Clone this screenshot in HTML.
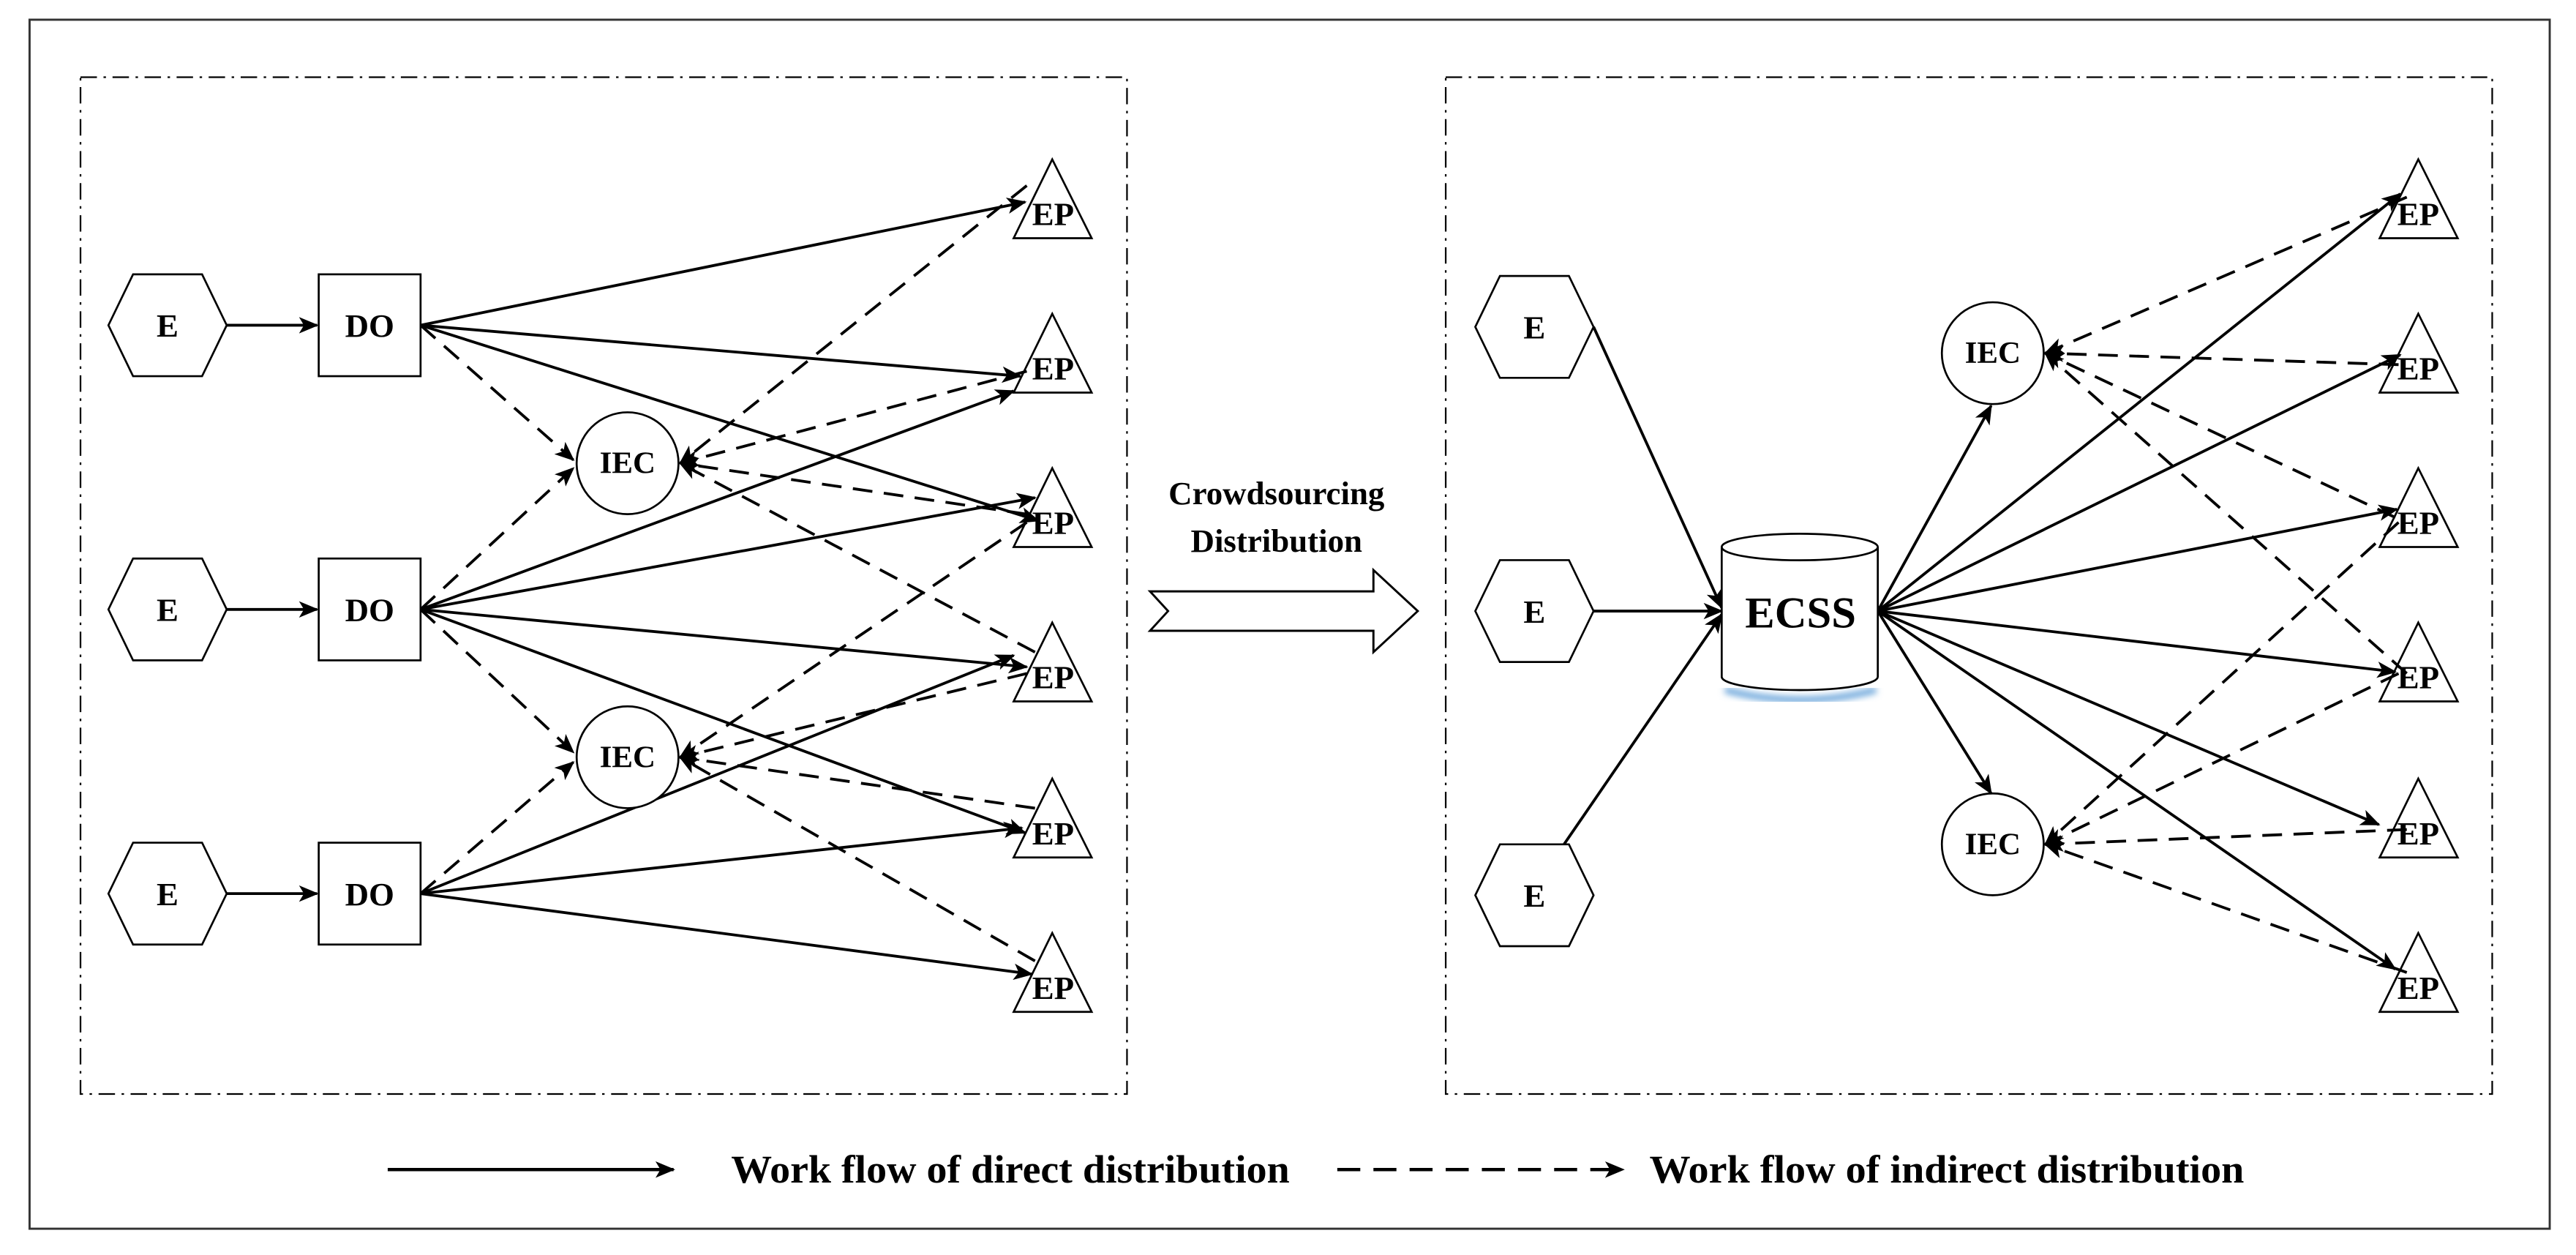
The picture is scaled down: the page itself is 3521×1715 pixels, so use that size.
<!DOCTYPE html>
<html><head><meta charset="utf-8"><style>html,body{margin:0;padding:0;background:#fff}svg{display:block}</style></head>
<body>
<svg width="3521" height="1715" viewBox="0 0 1568 764" preserveAspectRatio="none" xmlns="http://www.w3.org/2000/svg" font-family="Liberation Serif, serif" font-weight="bold">
<defs>
<marker id="a" viewBox="0 0 12 10" refX="11" refY="5" markerWidth="12" markerHeight="10" markerUnits="userSpaceOnUse" orient="auto"><path d="M0,0 L12,5 L0,10 L3,5 z" fill="#000"/></marker>
<filter id="sh" x="-20%" y="-20%" width="140%" height="140%"><feGaussianBlur stdDeviation="2"/></filter>
</defs>
<rect x="18" y="12" width="1534" height="736" fill="none" stroke="#333" stroke-width="1.3"/>
<rect x="49" y="47" width="637" height="619" fill="none" stroke="#000" stroke-width="1" stroke-dasharray="10,4,1.5,4"/>
<rect x="880" y="47" width="637" height="619" fill="none" stroke="#000" stroke-width="1" stroke-dasharray="10,4,1.5,4"/>

<g stroke="#000" stroke-width="1.7" fill="none" marker-end="url(#a)">
<line x1="138" y1="198" x2="193" y2="198"/>
<line x1="138" y1="371" x2="193" y2="371"/>
<line x1="138" y1="544" x2="193" y2="544"/>
<line x1="256" y1="198" x2="624" y2="123"/>
<line x1="256" y1="198" x2="621" y2="229"/>
<line x1="256" y1="198" x2="632" y2="317"/>
<line x1="256" y1="371" x2="617" y2="238"/>
<line x1="256" y1="371" x2="630" y2="303"/>
<line x1="256" y1="371" x2="625" y2="406"/>
<line x1="256" y1="371" x2="624" y2="507"/>
<line x1="256" y1="544" x2="617" y2="399"/>
<line x1="256" y1="544" x2="622" y2="504"/>
<line x1="256" y1="544" x2="628" y2="593"/>
<line x1="970" y1="199" x2="1048" y2="370"/>
<line x1="970" y1="372" x2="1048" y2="372"/>
<line x1="952" y1="514" x2="1048" y2="374"/>
<line x1="1143" y1="372" x2="1212" y2="247"/>
<line x1="1143" y1="372" x2="1212" y2="483"/>
<line x1="1143" y1="372" x2="1461" y2="118"/>
<line x1="1143" y1="372" x2="1461" y2="216"/>
<line x1="1143" y1="372" x2="1459" y2="310"/>
<line x1="1143" y1="372" x2="1458" y2="409"/>
<line x1="1143" y1="372" x2="1448" y2="502"/>
<line x1="1143" y1="372" x2="1458" y2="590"/>
</g>
<g stroke="#000" stroke-width="1.7" fill="none" stroke-dasharray="12,7" marker-end="url(#a)">
<line x1="256" y1="198" x2="349" y2="280"/>
<line x1="256" y1="371" x2="349" y2="285"/>
<line x1="256" y1="371" x2="349" y2="458"/>
<line x1="256" y1="544" x2="349" y2="464"/>
<line x1="625" y1="113" x2="414" y2="282"/>
<line x1="625" y1="226" x2="414" y2="282"/>
<line x1="625" y1="313" x2="414" y2="282"/>
<line x1="630" y1="397" x2="414" y2="282"/>
<line x1="625" y1="318" x2="414" y2="461"/>
<line x1="625" y1="410" x2="414" y2="461"/>
<line x1="630" y1="492" x2="414" y2="461"/>
<line x1="630" y1="585" x2="414" y2="461"/>
<line x1="1465" y1="120" x2="1245" y2="215"/>
<line x1="1460" y1="222" x2="1245" y2="215"/>
<line x1="1458" y1="315" x2="1245" y2="215"/>
<line x1="1465" y1="410" x2="1245" y2="215"/>
<line x1="1460" y1="318" x2="1245" y2="514"/>
<line x1="1460" y1="410" x2="1245" y2="514"/>
<line x1="1465" y1="505" x2="1245" y2="514"/>
<line x1="1465" y1="592" x2="1245" y2="514"/>
</g>

<g stroke="#000" stroke-width="1.2" fill="#fff">
<polygon points="66,198 81,167 123,167 138,198 123,229 81,229"/>
<polygon points="66,371 81,340 123,340 138,371 123,402 81,402"/>
<polygon points="66,544 81,513 123,513 138,544 123,575 81,575"/>
<rect x="194" y="167" width="62" height="62"/>
<rect x="194" y="340" width="62" height="62"/>
<rect x="194" y="513" width="62" height="62"/>
<circle cx="382" cy="282" r="31"/>
<circle cx="382" cy="461" r="31"/>
<polygon points="898,199 913,168 955,168 970,199 955,230 913,230"/>
<polygon points="898,372 913,341 955,341 970,372 955,403 913,403"/>
<polygon points="898,545 913,514 955,514 970,545 955,576 913,576"/>
<circle cx="1213" cy="215" r="31"/>
<circle cx="1213" cy="514" r="31"/>
</g>
<g stroke="#000" stroke-width="1.2" fill="none">
<polygon points="640.5,97 617,145 664.5,145"/>
<polygon points="640.5,191 617,239 664.5,239"/>
<polygon points="640.5,285 617,333 664.5,333"/>
<polygon points="640.5,379 617,427 664.5,427"/>
<polygon points="640.5,474 617,522 664.5,522"/>
<polygon points="640.5,568 617,616 664.5,616"/>
<polygon points="1472,97 1448.5,145 1496,145"/>
<polygon points="1472,191 1448.5,239 1496,239"/>
<polygon points="1472,285 1448.5,333 1496,333"/>
<polygon points="1472,379 1448.5,427 1496,427"/>
<polygon points="1472,474 1448.5,522 1496,522"/>
<polygon points="1472,568 1448.5,616 1496,616"/>
</g>
<path d="M1050,420 Q1096,432 1142,420" stroke="#6fa8dc" stroke-width="4" fill="none" filter="url(#sh)"/>
<path d="M1048,333 L1048,412 A47,8 0 0 0 1143,412 L1143,333 A47,8 0 0 0 1048,333 z" fill="#fff" stroke="#000" stroke-width="1.2"/>
<path d="M1048,333 A47,8 0 0 0 1143,333" fill="none" stroke="#000" stroke-width="1.2"/>
<polygon points="700,360 836,360 836,347 863,372 836,397 836,384 700,384 711,372" fill="#fff" stroke="#000" stroke-width="1.3"/>

<g font-size="20" text-anchor="middle" fill="#000">
<text x="102" y="205">E</text><text x="102" y="378">E</text><text x="102" y="551">E</text>
<text x="225" y="205">DO</text><text x="225" y="378">DO</text><text x="225" y="551">DO</text>
<text x="934" y="206">E</text><text x="934" y="379">E</text><text x="934" y="552">E</text>
</g>
<g font-size="19" text-anchor="middle" fill="#000">
<text x="382" y="288" textLength="34" lengthAdjust="spacingAndGlyphs">IEC</text><text x="382" y="467" textLength="34" lengthAdjust="spacingAndGlyphs">IEC</text>
<text x="1213" y="221" textLength="34" lengthAdjust="spacingAndGlyphs">IEC</text><text x="1213" y="520" textLength="34" lengthAdjust="spacingAndGlyphs">IEC</text>
</g>
<g font-size="20" text-anchor="middle" fill="#000">
<text x="641" y="137">EP</text><text x="641" y="231">EP</text><text x="641" y="325">EP</text>
<text x="641" y="419">EP</text><text x="641" y="514">EP</text><text x="641" y="608">EP</text>
<text x="1472" y="137">EP</text><text x="1472" y="231">EP</text><text x="1472" y="325">EP</text>
<text x="1472" y="419">EP</text><text x="1472" y="514">EP</text><text x="1472" y="608">EP</text>
</g>
<text x="1096" y="382" font-size="27" text-anchor="middle">ECSS</text>
<text x="777" y="307" font-size="20" text-anchor="middle">Crowdsourcing</text>
<text x="777" y="336" font-size="20" text-anchor="middle">Distribution</text>

<line x1="236" y1="712" x2="410" y2="712" stroke="#000" stroke-width="2" marker-end="url(#a)"/>
<line x1="814" y1="712" x2="988" y2="712" stroke="#000" stroke-width="2" stroke-dasharray="14,8" marker-end="url(#a)"/>
<text x="445" y="720" font-size="24" textLength="340" lengthAdjust="spacingAndGlyphs">Work flow of direct distribution</text>
<text x="1004" y="720" font-size="24" textLength="362" lengthAdjust="spacingAndGlyphs">Work flow of indirect distribution</text>
</svg>
</body></html>
